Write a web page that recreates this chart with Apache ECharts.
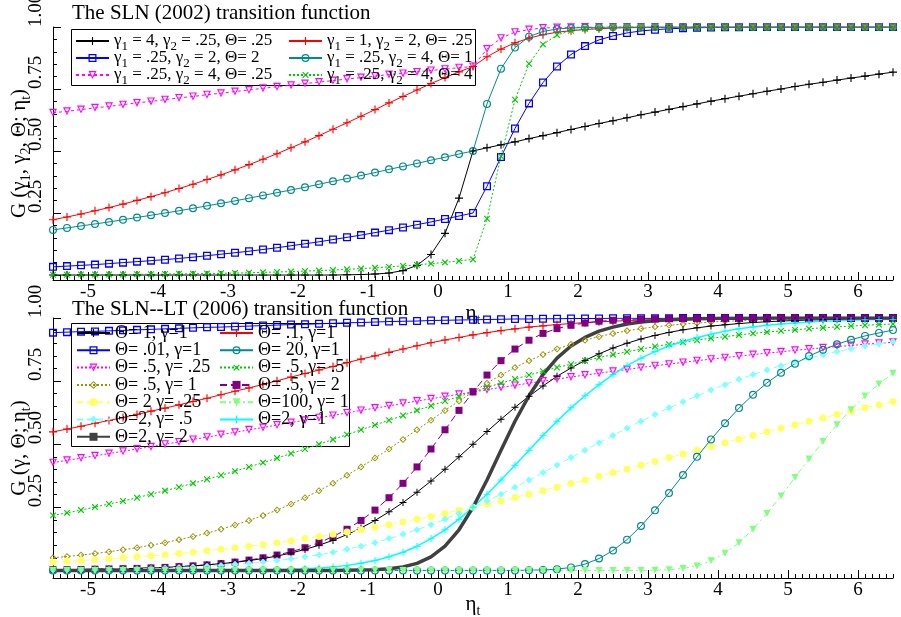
<!DOCTYPE html>
<html lang="en">
<head>
<meta charset="UTF-8">
<title>SLN transition functions</title>
<style>
  html, body { margin: 0; padding: 0; background: #fff; }
  #chart { width: 901px; height: 617px; }
</style>
</head>
<body>
<div id="chart"></div>
<script src="https://cdn.jsdelivr.net/npm/echarts@6.0.0/dist/echarts.min.js"></script>
<script>
// sample positions of eta_t (every 0.2)
var eta = [-5.5,-5.3,-5.1,-4.9,-4.7,-4.5,-4.3,-4.1,-3.9,-3.7,-3.5,-3.3,-3.1,-2.9,-2.7,-2.5,-2.3,-2.1,-1.9,-1.7,-1.5,-1.3,-1.1,-0.9,-0.7,-0.5,-0.3,-0.1,
  0.1,0.3,0.5,0.7,0.9,1.1,1.3,1.5,1.7,1.9,2.1,2.3,2.5,2.7,2.9,3.1,3.3,3.5,3.7,3.9,4.1,4.3,4.5,4.7,4.9,5.1,5.3,5.5,5.7,5.9,6.1,6.3,6.5];

var xTicks = [-5, -4, -3, -2, -1, 0, 1, 2, 3, 4, 5, 6];
var yTicks = [0.25, 0.5, 0.75, 1];

// top panel: SLN (2002)
var slnBlack = [0,0,0,0,0,0,0,0,0,0,0,0,0,0,0,0,0,0,0,0,0,.001,.002,.004,.008,.018,.039,.083,.168,.310,.5,
  .513,.525,.537,.550,.562,.574,.587,.599,.611,.622,.634,.646,.657,.668,.679,.690,.701,.711,.721,.731,.741,.750,.760,.769,.777,.786,.794,.802,.810,.818];
var slnRed = [.223,.234,.246,.259,.272,.286,.301,.316,.332,.349,.366,.385,.404,.424,.445,.467,.489,.513,.537,.562,.588,.614,.640,.667,.694,.720,.746,.772,.796,.819,.841,
  .880,.911,.936,.955,.969,.979,.985,.990,.993,.996,.997,.998,.999,.999,1,1,1,1,1,1,1,1,1,1,1,1,1,1,1,1];
var slnBlue = [.033,.036,.039,.042,.046,.050,.054,.058,.062,.067,.072,.078,.084,.090,.096,.103,.110,.118,.126,.134,.143,.152,.161,.171,.181,.192,.203,.214,.226,.238,.25,
  .358,.476,.591,.692,.776,.841,.889,.923,.948,.964,.976,.984,.989,.993,.995,.997,.998,.999,.999,1,1,1,1,1,1,1,1,1,1,1];
var slnTeal = [.182,.190,.198,.206,.214,.223,.232,.241,.250,.259,.269,.279,.289,.299,.310,.321,.332,.343,.354,.366,.378,.389,.401,.413,.426,.438,.450,.463,.475,.488,.5,
  .690,.832,.917,.961,.982,.992,.996,.998,.999,1,1,1,1,1,1,1,1,1,1,1,1,1,1,1,1,1,1,1,1,1];
var slnMagenta = [.654,.660,.667,.674,.680,.687,.694,.700,.707,.714,.720,.727,.733,.740,.746,.753,.759,.765,.772,.778,.784,.790,.796,.802,.808,.813,.819,.825,.830,.836,.841,
  .911,.955,.979,.990,.996,.998,.999,1,1,1,1,1,1,1,1,1,1,1,1,1,1,1,1,1,1,1,1,1,1,1];
var slnGreen = [.001,.001,.002,.002,.002,.002,.003,.003,.004,.005,.005,.006,.007,.008,.009,.011,.012,.014,.016,.018,.020,.023,.026,.029,.033,.037,.041,.046,.051,.057,.063,
  .227,.479,.707,.852,.930,.968,.985,.993,.997,.999,1,1,1,1,1,1,1,1,1,1,1,1,1,1,1,1,1,1,1,1];

// bottom panel: SLN-LT (2006)
var ltBlack = [.002,.003,.004,.005,.006,.007,.008,.010,.012,.015,.018,.022,.027,.032,.039,.047,.057,.069,.083,.100,.119,.142,.168,.198,.232,.269,.310,.354,.401,.450,.5,
  .550,.599,.646,.690,.731,.769,.802,.832,.858,.881,.900,.917,.931,.943,.953,.961,.968,.973,.978,.982,.985,.988,.990,.992,.993,.995,.996,.996,.997,.998];
var ltRed = [.549,.560,.571,.583,.594,.606,.618,.631,.643,.656,.669,.682,.696,.710,.723,.737,.751,.766,.780,.794,.808,.823,.837,.850,.864,.877,.890,.902,.913,.923,.933,
  .942,.950,.957,.964,.969,.974,.978,.982,.985,.987,.990,.991,.993,.994,.995,.996,.997,.997,.998,.998,.999,.999,.999,.999,.999,.999,1,1,1,1];
var ltBlue = [.942,.944,.946,.947,.949,.951,.953,.955,.957,.959,.961,.963,.964,.966,.968,.970,.972,.974,.975,.977,.979,.981,.982,.984,.986,.987,.988,.990,.991,.992,.993,
  .994,.995,.996,.996,.997,.997,.998,.998,.998,.999,.999,.999,.999,.999,1,1,1,1,1,1,1,1,1,1,1,1,1,1,1,1];
var ltTeal = [0,0,0,0,0,0,0,0,0,0,0,0,0,0,0,0,0,0,0,0,0,0,0,0,0,0,0,0,0,0,0,0,0,0,
  .001,.002,.005,.012,.025,.047,.079,.122,.176,.238,.307,.378,.450,.519,.583,.643,.696,.743,.783,.819,.849,.874,.896,.914,.929,.941,.952];
var ltMagenta = [.427,.436,.445,.454,.463,.472,.481,.490,.500,.509,.519,.528,.538,.547,.557,.566,.576,.586,.595,.605,.614,.624,.634,.643,.652,.662,.671,.680,.689,.698,.707,
  .716,.725,.733,.742,.750,.758,.766,.774,.781,.789,.796,.804,.811,.817,.824,.831,.837,.843,.849,.855,.861,.866,.872,.877,.882,.887,.891,.896,.900,.904];
var ltGreen = [.218,.228,.239,.251,.263,.275,.288,.302,.316,.330,.345,.361,.377,.393,.410,.427,.445,.463,.481,.500,.519,.538,.557,.576,.595,.614,.634,.652,.671,.689,.707,
  .725,.742,.758,.774,.789,.804,.817,.831,.843,.855,.866,.877,.887,.896,.904,.912,.920,.926,.933,.939,.944,.949,.953,.958,.961,.965,.968,.971,.974,.976];
var ltOlive = [.050,.055,.061,.067,.074,.082,.090,.100,.110,.122,.134,.148,.163,.180,.198,.218,.239,.263,.288,.316,.345,.377,.410,.445,.481,.519,.557,.595,.634,.671,.707,
  .742,.774,.804,.831,.855,.877,.896,.912,.926,.939,.949,.958,.965,.971,.976,.980,.984,.987,.989,.991,.993,.994,.995,.996,.997,.997,.998,.998,.999,.999];
var ltPurple = [.003,.003,.004,.005,.006,.007,.008,.010,.012,.015,.018,.022,.027,.033,.041,.050,.061,.074,.090,.110,.134,.163,.198,.239,.288,.345,.410,.481,.557,.634,.707,
  .774,.831,.877,.912,.939,.958,.971,.980,.987,.991,.994,.996,.997,.998,.999,.999,.999,1,1,1,1,1,1,1,1,1,1,1,1,1];
var ltYellow = [.033,.036,.039,.042,.046,.050,.054,.058,.062,.067,.072,.078,.084,.090,.096,.103,.110,.118,.126,.134,.143,.152,.161,.171,.181,.192,.203,.214,.226,.238,.25,
  .263,.276,.289,.302,.316,.330,.344,.358,.373,.388,.402,.417,.432,.447,.461,.476,.491,.506,.520,.535,.549,.563,.577,.591,.604,.618,.631,.644,.656,.669];
var ltLightGreen = [0,0,0,0,0,0,0,0,0,0,0,0,0,0,0,0,0,0,0,0,0,0,0,0,0,0,0,0,0,0,0,0,0,0,0,0,0,0,0,0,0,0,0,
  .001,.003,.008,.018,.038,.068,.110,.163,.226,.295,.368,.441,.511,.577,.637,.691,.739,.781];
var ltLightCyan = [.002,.003,.003,.004,.005,.006,.007,.008,.010,.012,.014,.017,.020,.024,.028,.033,.039,.046,.054,.062,.072,.084,.096,.110,.126,.143,.161,.181,.203,.226,.25,
  .276,.302,.330,.358,.388,.417,.447,.476,.506,.535,.563,.591,.618,.644,.668,.692,.715,.736,.757,.776,.794,.811,.826,.841,.854,.867,.878,.889,.898,.907];
var ltCyan = [0,0,0,0,0,0,0,0,0,0,0,0,.001,.001,.002,.002,.003,.005,.007,.010,.014,.020,.028,.039,.054,.072,.096,.126,.161,.203,.25,
  .302,.358,.417,.476,.535,.591,.644,.692,.736,.776,.811,.841,.867,.889,.907,.923,.936,.948,.957,.964,.971,.976,.980,.984,.987,.989,.991,.993,.994,.995];
var ltGray = [0,0,0,0,0,0,0,0,0,0,0,0,0,0,0,0,0,0,0,0,0,.001,.002,.003,.007,.014,.028,.054,.096,.161,.25,
  .358,.476,.591,.692,.776,.841,.889,.923,.948,.964,.976,.984,.989,.993,.995,.997,.998,.999,.999,.999,1,1,1,1,1,1,1,1,1,1];

var font = 'Liberation Serif';
var PLUS = 'path://M4.3,0H5.7V4.3H10V5.7H5.7V10H4.3V5.7H0V4.3H4.3Z';
var OSQUARE = 'path://M0,0H10V10H0Z M1.6,1.6V8.4H8.4V1.6Z';
var OCIRCLE = 'path://M5,0A5,5,0,1,1,5,10A5,5,0,1,1,5,0Z M5,1.5A3.5,3.5,0,1,0,5,8.5A3.5,3.5,0,1,0,5,1.5Z';
var OTRIDOWN = 'path://M0,0L10,0L5,9Z M2.2,1.3L5,6.4L7.8,1.3Z';
var ODIAMOND = 'path://M5,0L10,5L5,10L0,5Z M5,1.8L1.8,5L5,8.2L8.2,5Z';

var xMinorTicks = [];
for (var i = -55; i <= 65; i++) { if (i % 10 !== 0) xMinorTicks.push(i / 10); }
var yMinorTicks = [];
for (var j = 1; j < 20; j++) { if (j % 5 !== 0) yMinorTicks.push(j / 20); }

var subRich = function (size) {
    return { s: { fontFamily: font, fontSize: size, lineHeight: size, verticalAlign: 'bottom', color: '#000' } };
};

function xMain(grid, gap) {
    return {
        type: 'value', gridIndex: grid, position: 'bottom', min: -5.5, max: 6.5,
        name: 'η{s|t}', nameLocation: 'middle', nameGap: gap, nameMoveOverlap: false,
        nameTextStyle: { fontFamily: font, fontSize: 21, lineHeight: 28, color: '#000', rich: subRich(14) },
        axisLine: { show: true, onZero: false, lineStyle: { color: '#000', width: 1 } },
        axisTick: { show: true, inside: true, length: 8, customValues: xTicks, lineStyle: { color: '#000' } },
        axisLabel: { customValues: xTicks, margin: 3, fontFamily: font, fontSize: 19, color: '#000' },
        splitLine: { show: false }
    };
}
function xMinor(grid) {
    return {
        type: 'value', gridIndex: grid, position: 'bottom', min: -5.5, max: 6.5,
        axisLine: { show: false, onZero: false },
        axisTick: { show: true, inside: true, length: 4, customValues: xMinorTicks, lineStyle: { color: '#000' } },
        axisLabel: { show: false }, splitLine: { show: false }
    };
}
function yMain(grid, min, name) {
    return {
        type: 'value', gridIndex: grid, position: 'left', min: min, max: 1,
        name: name, nameLocation: 'middle', nameRotate: 90, nameGap: 20, nameMoveOverlap: false,
        nameTextStyle: { fontFamily: font, fontSize: 21, lineHeight: 28, color: '#000', rich: subRich(14) },
        axisLine: { show: true, onZero: false, lineStyle: { color: '#000', width: 1 } },
        axisTick: { show: true, inside: true, length: 8, customValues: [0].concat(yTicks), lineStyle: { color: '#000' } },
        axisLabel: {
            customValues: yTicks, rotate: 90, align: 'left', verticalAlign: 'bottom', margin: 7,
            fontFamily: font, fontSize: 19, color: '#000',
            formatter: function (v) { return v.toFixed(2); }
        },
        splitLine: { show: false }
    };
}
function yMinor(grid, min) {
    return {
        type: 'value', gridIndex: grid, position: 'left', min: min, max: 1,
        axisLine: { show: false, onZero: false },
        axisTick: { show: true, inside: true, length: 4, customValues: yMinorTicks, lineStyle: { color: '#000' } },
        axisLabel: { show: false }, splitLine: { show: false }
    };
}

function mk(name, ys, axis, color, symbol, size, dash, width, rotate) {
    return {
        name: name, type: 'line', xAxisIndex: axis, yAxisIndex: axis,
        data: eta.map(function (x, k) { return [x, ys[k]]; }),
        symbol: symbol, symbolSize: size, symbolRotate: rotate || 0, showSymbol: true,
        lineStyle: { color: color, width: width || 1, type: dash || 'solid' },
        itemStyle: { color: color, borderWidth: 0 },
        emphasis: { disabled: true }
    };
}

function legendCol(names, left, top, fontSize, gap) {
    return {
        data: names, orient: 'vertical', left: left, top: top, padding: 0,
        itemWidth: 33, itemHeight: 10, itemGap: gap, selectedMode: false,
        formatter: function (n) { return n; },
        textStyle: { fontFamily: font, fontSize: fontSize, lineHeight: 24, color: '#000', rich: subRich(13) }
    };
}

var n1 = 'γ{s|1} = 4, γ{s|2} = .25, Θ= .25';
var n2 = 'γ{s|1} = 1, γ{s|2} = 2, Θ= .25';
var n3 = 'γ{s|1} = .25, γ{s|2} = 2, Θ= 2';
var n4 = 'γ{s|1} = .25, γ{s|2} = 4, Θ= 1';
var n5 = 'γ{s|1} = .25, γ{s|2} = 4, Θ= .25';
var n6 = 'γ{s|1} = .25, γ{s|2} = 4, Θ= 4';

var titleStyle = { fontFamily: font, fontSize: 21, fontWeight: 'normal', color: '#000' };

var option = {
    animation: false,
    backgroundColor: '#fff',
    textStyle: { fontFamily: font },
    title: [
        { text: 'The SLN (2002) transition function', left: 72, top: 3, padding: 0, textStyle: titleStyle },
        { text: 'The SLN--LT (2006) transition function', left: 72, top: 299, padding: 0, textStyle: titleStyle }
    ],
    grid: [
        { left: 53, right: 8, top: 27, bottom: 337, outerBoundsMode: 'none' },
        { left: 53, right: 8, top: 318, bottom: 39, outerBoundsMode: 'none' }
    ],
    xAxis: [xMain(0, 19), xMinor(0), xMain(1, 12), xMinor(1)],
    yAxis: [
        yMain(0, -0.02, 'G (γ{s|1}, γ{s|2}, Θ; η{s|t})'), yMinor(0, -0.02),
        yMain(1, -0.03, 'G (γ, Θ; η{s|t})'), yMinor(1, -0.03)
    ],
    legend: [
        legendCol([n1, n3, n5], 75, 29, 17, -7),
        legendCol([n2, n4, n6], 288, 29, 17, -7),
        legendCol(['Θ= 1, γ=1', 'Θ= .01, γ=1', 'Θ= .5, γ= .25', 'Θ= .5, γ= 1', 'Θ= 2 γ= .25', 'Θ=2, γ= .5', 'Θ=2, γ= 2'], 76, 321, 18, -6.7),
        legendCol(['Θ= .1, γ=1', 'Θ= 20, γ=1', 'Θ= .5, γ= .5', 'Θ= .5, γ= 2', 'Θ=100, γ= 1', 'Θ=2, γ=1'], 219, 321, 18, -6.7)
    ],
    graphic: [
        { type: 'rect', silent: true, shape: { x: 71.5, y: 29.5, width: 404, height: 56 }, style: { fill: 'none', stroke: '#000', lineWidth: 1 } },
        { type: 'rect', silent: true, shape: { x: 71.5, y: 323.5, width: 278, height: 123 }, style: { fill: 'none', stroke: '#000', lineWidth: 1 } }
    ],
    series: [
        mk(n1, slnBlack, 0, '#000000', PLUS, 8),
        mk(n3, slnBlue, 0, '#0000ff', OSQUARE, 8),
        mk(n5, slnMagenta, 0, '#ff00ff', OTRIDOWN, 8, [3, 3]),
        mk(n2, slnRed, 0, '#ff0000', PLUS, 8),
        mk(n4, slnTeal, 0, '#008b8b', OCIRCLE, 8),
        mk(n6, slnGreen, 0, '#00c800', PLUS, 8, [2, 2], 1, 45),

        mk('Θ= .01, γ=1', ltBlue, 2, '#0000ff', OSQUARE, 8),
        mk('Θ= .1, γ=1', ltRed, 2, '#ff0000', PLUS, 8),
        mk('Θ= .5, γ= .25', ltMagenta, 2, '#ff00ff', OTRIDOWN, 8, [2, 2]),
        mk('Θ= .5, γ= .5', ltGreen, 2, '#00c800', PLUS, 8, [2, 2], 1, 45),
        mk('Θ= .5, γ= 1', ltOlive, 2, '#949400', ODIAMOND, 7, [2, 2]),
        mk('Θ= .5, γ= 2', ltPurple, 2, '#800080', 'rect', 7, [7, 4]),
        mk('Θ= 1, γ=1', ltBlack, 2, '#000000', PLUS, 7),
        mk('Θ= 2 γ= .25', ltYellow, 2, '#ffff66', 'circle', 7, [6, 4]),
        mk('Θ=2, γ= .5', ltLightCyan, 2, '#80ffff', 'diamond', 7, [6, 4]),
        mk('Θ=2, γ=1', ltCyan, 2, '#00ffff', PLUS, 7, 'solid', 1.5),
        mk('Θ= 20, γ=1', ltTeal, 2, '#008b8b', OCIRCLE, 8),
        mk('Θ=100, γ= 1', ltLightGreen, 2, '#80ff80', 'triangle', 7, [6, 3, 2, 3], 1, 180),
        mk('Θ=2, γ= 2', ltGray, 2, '#404040', 'rect', 0, 'solid', 3.5)
    ]
};

var myChart = echarts.init(document.getElementById('chart'));
myChart.setOption(option);
</script>
</body>
</html>
